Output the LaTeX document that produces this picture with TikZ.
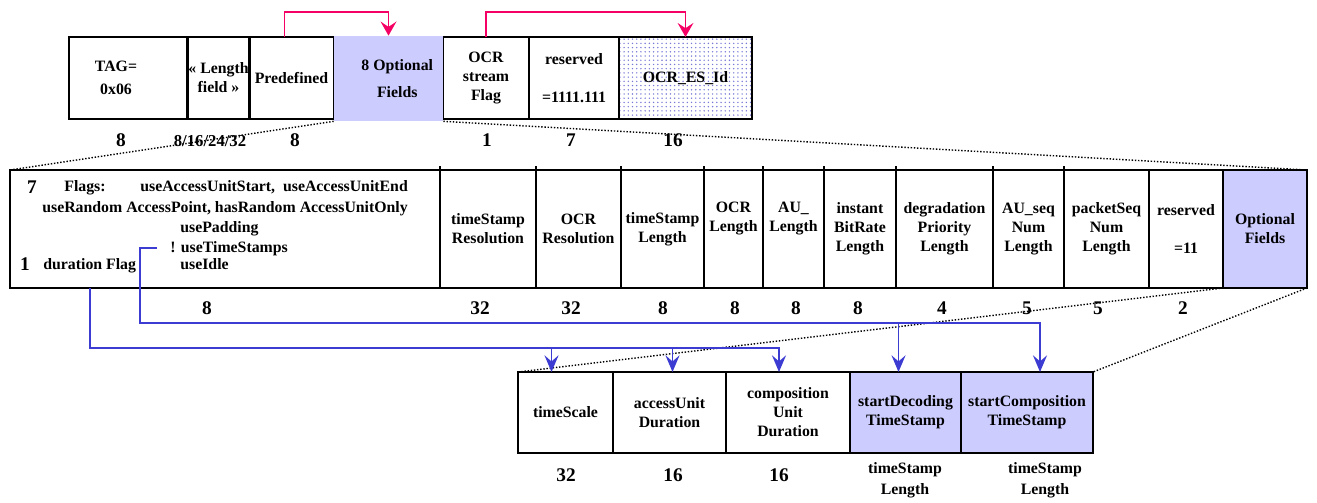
\documentclass[tikz,border=0pt]{standalone}
\usepackage{fontspec}
\setmainfont{Liberation Serif}
\usepackage{tikz}
\usetikzlibrary{arrows.meta}
\usetikzlibrary{patterns.meta}
\definecolor{lilas}{RGB}{204,204,255}
\definecolor{rosa}{RGB}{245,0,100}
\definecolor{azul}{RGB}{60,60,210}
\definecolor{pontos}{RGB}{120,120,215}
\newcommand{\fonte}{\bfseries\fontsize{9}{10.8}\selectfont}
\newcommand{\fontenum}{\bfseries\fontsize{11}{13}\selectfont}
\tikzset{
  campo/.style={draw, line width=0.8pt, inner sep=1pt, outer sep=0pt, align=center, font=\fonte},
  opcional/.style={campo, fill=lilas},
  texto/.style={inner sep=0pt, anchor=base west, font=\fonte},
  numero/.style={font=\fontenum, inner sep=0pt},
  setarosa/.style={-{Stealth[length=8pt,width=9pt,inset=3pt]}, draw=rosa, line width=1pt},
  seta/.style={-{Stealth[length=9.5pt,width=8pt,inset=3.5pt]}, draw=azul, line width=1pt},
  ampliacao/.style={densely dotted, line width=0.8pt},
}

\begin{document}
\begin{tikzpicture}[x=0.02cm, y=-0.02cm]
  \useasboundingbox (0,0) rectangle (1317,503);
  % descritor: linha de cima
  \foreach \a/\b/\nome/\txt in {
      69/188/tag/{TAG=\hspace*{0.5cm}\\[2pt]0x06\hspace*{0.5cm}},
      188/249/lenf/{« Length\\field »},
      249/334/predef/{Predefined},
      443/529/ocrflag/{OCR\\stream\\Flag},
      529/619/resA/{reserved\\[11pt]=1111.111}} {
    \pgfmathsetmacro{\larg}{(\b-\a)*0.02}
    \node[campo, minimum width=\larg cm, minimum height=1.64cm] (\nome) at ({(\a+\b)/2},78) {\txt};
  }
  \node[fill=lilas, inner sep=1pt, align=center, font=\fonte, minimum width=2.18cm,
        minimum height=1.7cm] (opt8) at (388.5,78.5) {\hspace*{0.35cm}8 Optional\\[5pt]\hspace*{0.35cm}Fields};
  \node[campo, line width=1.1pt, pattern={Dots[distance=2.4pt, radius=0.45pt]}, pattern color=pontos,
        minimum width=2.66cm, minimum height=1.64cm] (ocresid) at (685.5,78) {OCR\_ES\_Id};
  \draw[setarosa] ([xshift=-0.14cm]predef.north) -- ++(0,-25) -| (opt8.north);
  \draw[setarosa] (ocrflag.north) -- ++(0,-25) -| (ocresid.north);
  \foreach \x/\v in {121/8, 295/8, 487/1, 571/7, 673/16}
    \node[numero] (nA\x) at (\x,140) {\v};
  \node[numero, font=\bfseries\fontsize{9.5}{11}\selectfont] (nAlen) at (210,141) {8/16/24/32};

  % linha do meio
  \foreach \a/\b/\nome/\txt in {
      10/440/flags/{},
      440/536/tsres/{timeStamp\\Resolution},
      536/621/ocrres/{OCR\\Resolution},
      621/704/tslen/{timeStamp\\Length},
      704/763/ocrlen/{OCR\\Length\\\strut},
      763/824/aulen/{AU\_\\Length\\\strut},
      824/896/ibrlen/{instant\\BitRate\\Length},
      896/993/dplen/{degradation\\Priority\\Length},
      993/1064/auseq/{AU\_seq\\Num\\Length},
      1064/1149/pktseq/{packetSeq\\Num\\Length},
      1149/1223/resB/{reserved\\[10.8pt]=11}} {
    \pgfmathsetmacro{\larg}{(\b-\a)*0.02}
    \node[campo, minimum width=\larg cm, minimum height=2.36cm] (\nome) at ({(\a+\b)/2},229) {\txt};
  }
  \node[opcional, minimum width=1.68cm, minimum height=2.36cm] (optB) at (1265,229) {Optional\\Fields};
  \foreach \n in {tsres,ocrres,tslen,ocrlen,aulen,ibrlen,dplen,auseq,pktseq}
    \draw[line width=0.8pt] (\n.north west) -- ++(0,-4);

  \node[numero] (f7) at (32,187) {7};
  \node[texto] (flg) at (64,192) {Flags:};
  \node[texto] (uaus) at (140,192) {useAccessUnitStart,\ \ useAccessUnitEnd};
  \node[texto] (urap) at (42,213) {useRandom AccessPoint, hasRandom AccessUnitOnly};
  \node[texto] (upad) at (180,232) {usePadding};
  \node[texto] (usets) at (170,252) {! useTimeStamps};
  \node[numero] (f1) at (25,264) {1};
  \node[texto] (durflag) at (43,269) {duration Flag};
  \node[texto] (uidle) at (180,269) {useIdle};

  \foreach \x/\v in {207/8, 480/32, 571/32, 663/8, 735/8, 796/8, 858/8, 942/4, 1027/5, 1098/5, 1183/2}
    \node[numero] (nB\x) at (\x,308) {\v};

  % linha de baixo
  \foreach \a/\b/\nome/\txt in {
      518/613/tscale/{timeScale},
      613/726/audur/{accessUnit\\Duration},
      726/850/cudur/{composition\\Unit\\Duration}} {
    \pgfmathsetmacro{\larg}{(\b-\a)*0.02}
    \node[campo, line width=1pt, minimum width=\larg cm, minimum height=1.62cm] (\nome) at ({(\a+\b)/2},412.5) {\txt};
  }
  \node[opcional, line width=1.2pt, minimum width=2.22cm, minimum height=1.62cm] (sdts) at (905.5,412.5) {startDecoding\\TimeStamp};
  \node[opcional, line width=1.2pt, minimum width=2.64cm, minimum height=1.62cm] (scts) at (1027,412.5) {startComposition\\TimeStamp};

  \foreach \x/\v in {566/32, 673/16, 779/16}
    \node[numero] (nC\x) at (\x,475) {\v};
  \node[font=\fonte, align=center, inner sep=0pt] (tslA) at (905,480) {timeStamp\\[1pt]Length};
  \node[font=\fonte, align=center, inner sep=0pt] (tslB) at (1045,480) {timeStamp\\[1pt]Length};

  % linhas pontilhadas de ampliacao
  \draw[ampliacao] (opt8.south west) -- (flags.north west);
  \draw[ampliacao] (opt8.south east) -- (optB.north east);
  \draw[ampliacao] (optB.south west) -- (tscale.north west);
  \draw[ampliacao] (optB.south east) -- (scts.north east);

  % ligacoes azuis
  \coordinate (barraA) at (0,348);
  \coordinate (barraB) at (0,323);
  \coordinate (alvoTS) at ([xshift=-0.28cm]tscale.north);
  \coordinate (alvoAU) at ([xshift=0.06cm]audur.north);
  \coordinate (alvoCU) at ([xshift=-0.18cm]cudur.north);
  \coordinate (alvoSD) at ([xshift=-0.14cm]sdts.north);
  \coordinate (alvoSC) at ([xshift=0.26cm]scts.north);
  \draw[seta] (durflag |- flags.south) |- (barraA -| alvoCU) -- (alvoCU);
  \draw[seta] (barraA -| alvoTS) -- (alvoTS);
  \draw[seta] (barraA -| alvoAU) -- (alvoAU);
  \draw[seta] ([xshift=-0.26cm]usets.west) -- ++(-17,0) |- (barraB -| alvoSC) -- (alvoSC);
  \draw[seta] (barraB -| alvoSD) -- (alvoSD);
\end{tikzpicture}
\end{document}
